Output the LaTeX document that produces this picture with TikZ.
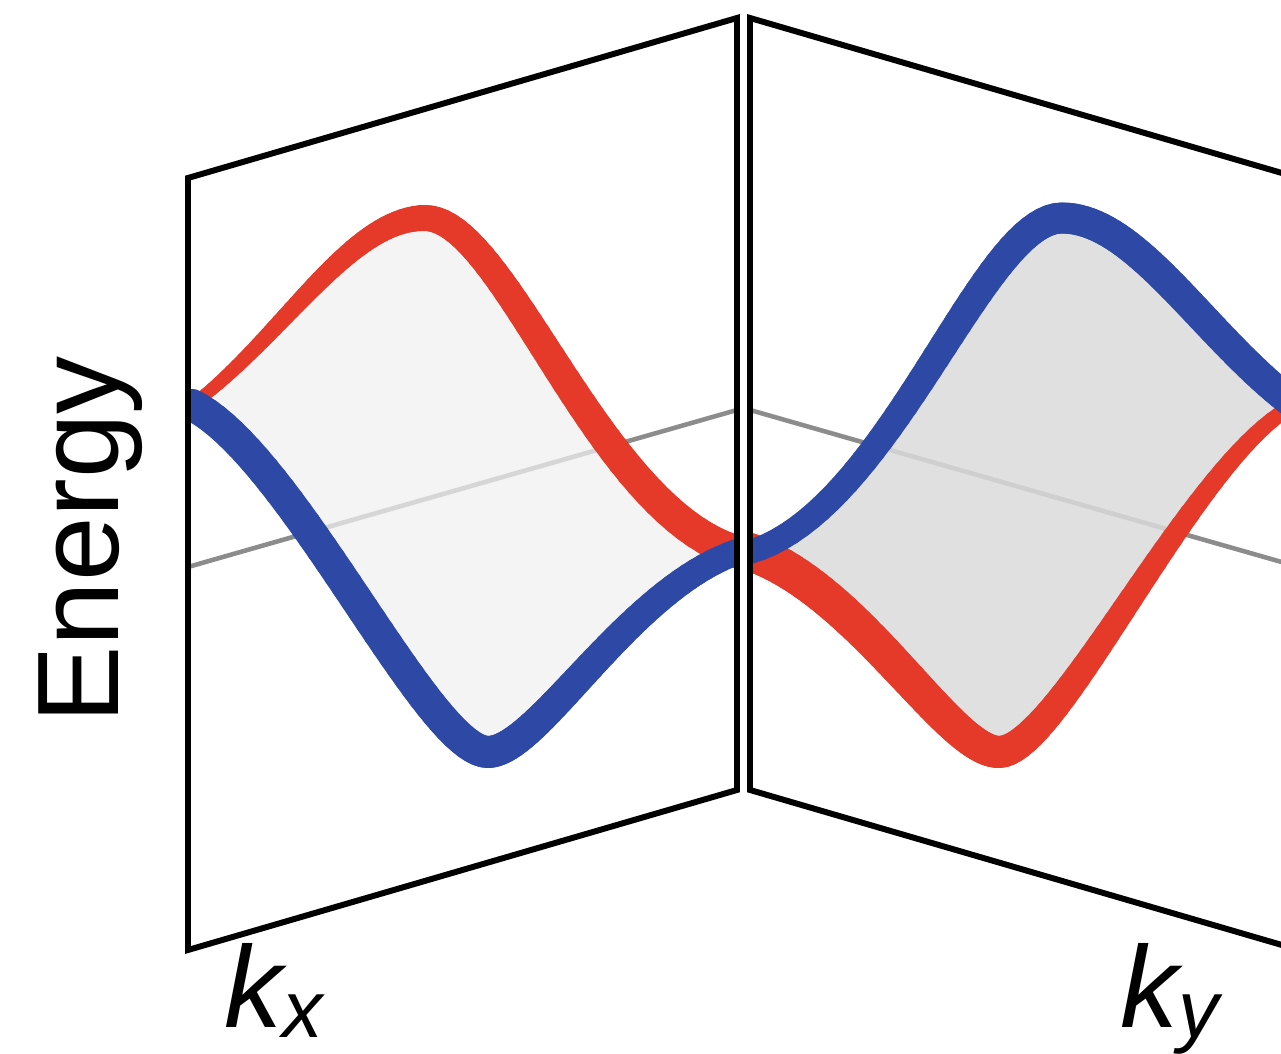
\documentclass[tikz,border=0pt]{standalone}
\usepackage{fontspec}
\setmainfont{Liberation Sans}
\usetikzlibrary{math}
\definecolor{bred}{RGB}{229,57,42}
\definecolor{bblue}{RGB}{46,72,166}

% control points of the two bands, left panel (#1 = upper band, #2 = lower band)
\newcommand{\setcurves}[2]{
\coordinate (#10) at (1.92,6.49);
\coordinate (#11) at (2.82,7.16);
\coordinate (#12) at (3.50,8.36);
\coordinate (#13) at (4.25,8.36);
\coordinate (#14) at (5.05,8.36);
\coordinate (#15) at (5.97,5.44);
\coordinate (#16) at (7.37,5.02);
\coordinate (#20) at (1.92,6.49);
\coordinate (#21) at (2.92,5.99);
\coordinate (#22) at (4.28,3.02);
\coordinate (#23) at (4.88,3.02);
\coordinate (#24) at (5.38,3.02);
\coordinate (#25) at (6.27,4.635);
\coordinate (#26) at (7.37,5.02);
}
% band of varying width along the points #1..; widths at start, extremum, end
\newcommand{\band}[4]{
\path (#10) .. controls (#11) and (#12) .. (#13) \foreach \i in {0,...,40}{coordinate[pos=\i/40] (#1a\i)};
\path (#13) .. controls (#14) and (#15) .. (#16) \foreach \i in {0,...,40}{coordinate[pos=\i/40] (#1b\i)};
\foreach \i [count=\j] in {0,...,39}{
 \draw[line width=#2+(#3-#2)*\i/39, line cap=round] (#1a\i) -- (#1a\j);
 \draw[line width=#3+(#4-#3)*\i/39, line cap=round] (#1b\i) -- (#1b\j);
}
}

\begin{document}
\begin{tikzpicture}[
  frame/.style={black, line width=1.7pt},
  plane/.style={black!45, line width=1.3pt}]

\tikzmath{
\W = 12.81;
\H = 10.54;
\M = 14.87;
}
\useasboundingbox (0,0) rectangle (\W,\H);
\clip (0,0) rectangle (\W,\H);

% panels: plane line, shaded gap, bands (right panel = mirror image)
\foreach \s/\up/\low/\shade/\op/\ra/\rb/\rc/\ba/\bb/\bc in
  {0/r/b/6/0.75/0.12cm/0.26cm/0.33cm/0.32cm/0.32cm/0.26cm,
   1/b/r/14/0.85/0.15cm/0.32cm/0.38cm/0.30cm/0.31cm/0.24cm}{
 \begin{scope}[xshift=\s*\M cm, xscale=1-2*\s]
  \clip (1.88,1.04) -- (1.88,8.76) -- (7.37,10.36) -- (7.37,2.64) -- cycle;
  \setcurves{\up}{\low}
  \draw[plane] (1.88,4.87) -- (7.37,6.44);
  \fill[black!\shade, opacity=\op] (r0) .. controls (r1) and (r2) .. (r3) .. controls (r4) and (r5) .. (r6)
    .. controls (b5) and (b4) .. (b3) .. controls (b2) and (b1) .. (b0) -- cycle;
  \begin{scope}[draw=bred]
   \band{r}{\ra}{\rb}{\rc}
  \end{scope}
  \begin{scope}[draw=bblue]
   \band{b}{\ba}{\bb}{\bc}
  \end{scope}
 \end{scope}
}

%Frames
\coordinate (LB) at (1.88,1.04);
\coordinate (LT) at (1.88,8.76);
\coordinate (LR) at (7.37,10.36);
\coordinate (LD) at (7.37,2.64);
\coordinate (RT) at (7.50,10.36);
\coordinate (RB) at (7.50,2.64);
\coordinate (RR) at (12.99,8.76);
\coordinate (RD) at (12.99,1.04);

\draw[frame] (LB) -- (LT) -- (LR) -- (LD) -- cycle;
\draw[frame] (RT) -- (RR) -- (RD) -- (RB) -- cycle;

%Labels
\node[rotate=90, inner sep=0, font=\fontsize{33}{40}\selectfont] (energy) at (0.91,5.14) {Energy};
\node[anchor=base west, inner sep=0, font=\fontsize{33}{40}\selectfont\itshape] (kx) at (2.24,0.26) {k\raisebox{-2.6pt}{\fontsize{23}{28}\selectfont x}};
\node[anchor=base west, inner sep=0, font=\fontsize{33}{40}\selectfont\itshape] (ky) at (11.20,0.26) {k\raisebox{-2.6pt}{\fontsize{23}{28}\selectfont y}};

\end{tikzpicture}
\end{document}
